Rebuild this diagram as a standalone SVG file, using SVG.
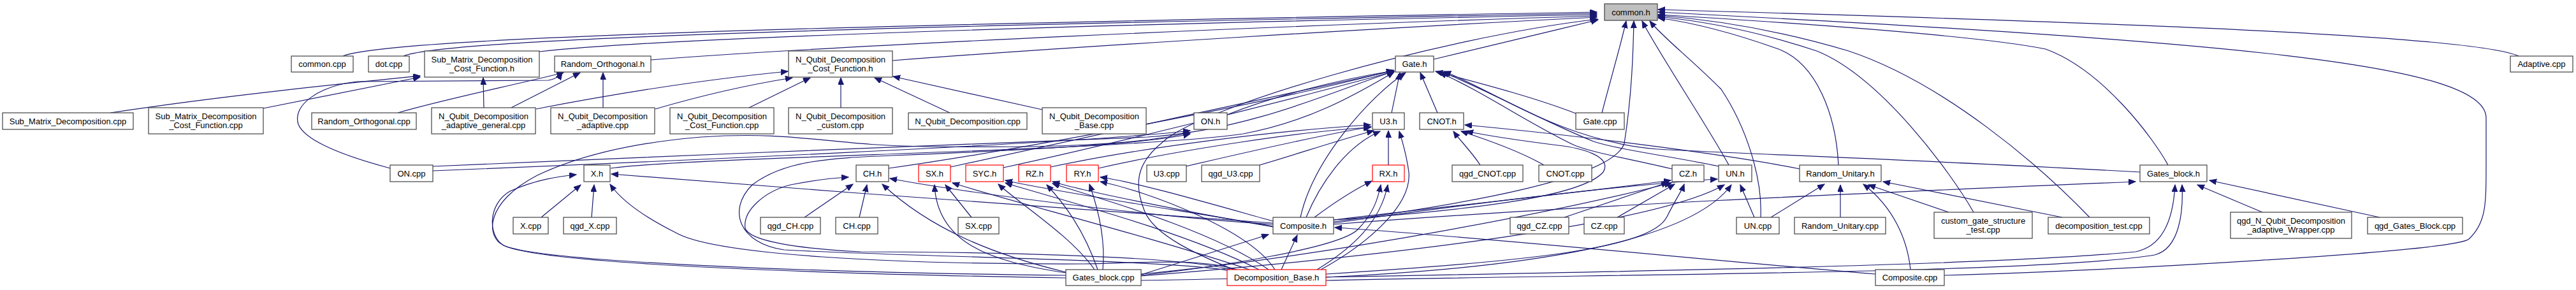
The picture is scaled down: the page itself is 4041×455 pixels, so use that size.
<svg xmlns="http://www.w3.org/2000/svg" width="4041" height="455" viewBox="0 0 4041 455">
<defs>
<marker id="a" markerUnits="userSpaceOnUse" markerWidth="12" markerHeight="10" refX="11" refY="4.5" orient="auto"><path d="M0,0 L11,4.5 L0,9 z" fill="#191970" stroke="#191970" stroke-width="1"/></marker>
</defs>
<style>
.n rect{fill:#fff;stroke:#404040;stroke-width:1.2}
.r rect{stroke:#ff0000}
.g rect{fill:#bfbfbf;stroke:#404040}
text{font-family:"Liberation Sans",Arial,Helvetica,sans-serif;font-size:13px;text-anchor:middle;fill:#000}
#edges path{fill:none;stroke:#191970;stroke-width:1.2;marker-end:url(#a)}
</style>
<rect width="4041" height="455" fill="#fff"/>
<g id="edges">
<path d="M538,88 C590,66 1000,44 2505,19"/>
<path d="M633,88 C680,68 1050,46 2505,21"/>
<path d="M846,81 C1050,58 1800,36 2505,23"/>
<path d="M1021,94 C1300,72 2000,40 2505,25"/>
<path d="M1400,95 C1700,72 2200,42 2505,27"/>
<path d="M2249,93 C2330,74 2420,52 2507,31"/>
<path d="M3951,88 C3880,55 3300,35 2601,15"/>
<path d="M3050,432 C3300,425 3850,395 3873,375 C3900,350 3900,320 3900,260 L3900,185 C3900,100 3500,65 2601,19"/>
<path d="M3401,259 C3380,220 3300,110 3209,77 C3100,55 2800,35 2601,23"/>
<path d="M2884,259 C2880,180 2850,100 2790,77 C2720,52 2660,36 2601,28"/>
<path d="M3096,333 C3060,270 2950,120 2850,80 C2760,50 2680,34 2601,26"/>
<path d="M3278,341 C3200,260 3050,130 2900,80 C2800,50 2700,32 2601,24"/>
<path d="M2513,177 C2525,130 2540,80 2551,33"/>
<path d="M2712,259 C2680,200 2600,80 2576,33"/>
<path d="M2762,341 C2765,280 2740,200 2700,140 C2650,90 2610,60 2588,33"/>
<path d="M2092,348 C2300,320 2530,280 2548,225 C2560,150 2562,80 2563,33"/>
<path d="M1935,423 C1880,400 1810,370 1795,330 C1775,280 1790,250 1825,222 C1880,170 2250,60 2506,30"/>
<path d="M173,177 C350,150 550,130 659,119"/>
<path d="M413,170 L659,121"/>
<path d="M759,169 L758,122"/>
<path d="M624,177 C700,155 800,135 884,114"/>
<path d="M802,169 L910,114"/>
<path d="M946,169 L946,114"/>
<path d="M612,264 C560,250 480,225 468,195 C458,165 500,135 560,128 L860,126 C872,124 878,120 882,114"/>
<path d="M841,171 C950,150 1100,125 1236,112"/>
<path d="M1028,171 C1100,150 1180,132 1243,122"/>
<path d="M1175,169 L1271,122"/>
<path d="M1319,169 L1319,122"/>
<path d="M1490,177 L1372,122"/>
<path d="M1635,172 L1401,120"/>
<path d="M1925,180 C2000,150 2100,125 2186,111"/>
<path d="M679,268 C1000,255 1700,225 1867,205"/>
<path d="M679,261 C1000,245 1600,225 1800,215 C1960,205 2100,140 2186,112"/>
<path d="M849,341 L911,290"/>
<path d="M928,341 L932,290"/>
<path d="M958,264 C1100,245 1750,238 1950,210 C2060,190 2140,140 2187,113"/>
<path d="M1672,436 C1300,430 850,415 790,385 C765,370 765,320 800,300 C840,282 875,277 904,274"/>
<path d="M1672,432 C1300,428 850,412 790,385 C762,372 760,318 843,275 C900,248 980,225 1100,215 C1250,205 1300,228 1450,230 C1650,232 1780,228 1867,208"/>
<path d="M1940,423 C1880,405 1800,412 1700,414 C1400,415 1120,400 1060,365 C1010,340 975,315 957,289"/>
<path d="M1997,350 C1700,330 1300,300 959,273"/>
<path d="M1262,341 L1338,289"/>
<path d="M1348,341 L1360,290"/>
<path d="M1672,427 C1560,400 1460,360 1384,289"/>
<path d="M1997,352 C1800,340 1500,300 1396,280"/>
<path d="M1930,423 C1850,400 1500,395 1350,395 C1250,390 1175,378 1169,358 C1165,330 1200,300 1240,290 C1280,282 1310,279 1331,278"/>
<path d="M1930,425 C1850,408 1400,402 1230,392 C1160,382 1140,330 1180,290 C1230,252 1300,248 1400,244 C1600,236 1800,226 1867,210"/>
<path d="M1394,264 C1600,235 2000,160 2186,110"/>
<path d="M1524,341 L1483,290"/>
<path d="M1672,428 C1550,410 1470,380 1466,290"/>
<path d="M1960,423 C1800,370 1600,320 1494,287"/>
<path d="M1491,262 C1650,228 2000,150 2187,111"/>
<path d="M1717,423 C1680,370 1600,320 1566,289"/>
<path d="M1997,355 C1850,330 1650,300 1577,283"/>
<path d="M1975,423 C1850,360 1650,310 1577,287"/>
<path d="M1574,263 C1750,225 2050,150 2187,112"/>
<path d="M1722,423 C1700,360 1670,320 1642,290"/>
<path d="M1997,356 C1850,330 1700,300 1651,285"/>
<path d="M1990,423 C1900,360 1720,310 1651,288"/>
<path d="M1648,262 C1800,230 2000,205 2150,196"/>
<path d="M1730,423 C1735,370 1720,320 1709,289"/>
<path d="M1997,347 C1900,320 1780,285 1726,278"/>
<path d="M2000,423 C1960,360 1800,300 1726,285"/>
<path d="M1723,264 C1850,235 2050,205 2150,200"/>
<path d="M2178,259 L2178,205"/>
<path d="M2062,341 C2090,320 2120,300 2152,284"/>
<path d="M1790,432 C1900,420 2100,390 2130,360 C2155,335 2162,310 2166,290"/>
<path d="M2066,423 C2120,390 2165,350 2177,290"/>
<path d="M1860,261 C1950,240 2080,210 2151,199"/>
<path d="M1976,259 C2040,240 2100,220 2155,205"/>
<path d="M2049,341 C2070,290 2110,230 2165,206"/>
<path d="M2072,423 C2150,380 2215,320 2210,270 C2206,240 2200,222 2195,206"/>
<path d="M2183,177 L2196,114"/>
<path d="M2255,177 L2228,114"/>
<path d="M2322,259 C2310,240 2290,220 2280,206"/>
<path d="M2422,259 C2380,235 2320,215 2292,206"/>
<path d="M2092,345 C2300,330 2480,310 2515,270 C2530,245 2480,232 2444,228 C2380,220 2330,212 2300,206"/>
<path d="M2823,265 C2700,240 2450,210 2298,196"/>
<path d="M2472,178 C2400,150 2300,125 2252,112"/>
<path d="M2454,341 L2617,286"/>
<path d="M2537,341 L2627,289"/>
<path d="M2623,265 C2560,250 2500,240 2470,228 C2400,195 2320,140 2258,114"/>
<path d="M2092,345 C2300,320 2500,300 2621,283"/>
<path d="M1790,430 C2100,400 2450,330 2622,287"/>
<path d="M2080,430 C2400,410 2590,390 2615,340 C2630,310 2638,300 2642,289"/>
<path d="M2752,341 L2730,290"/>
<path d="M2697,261 C2620,245 2540,235 2500,222 C2420,190 2320,135 2262,113"/>
<path d="M2092,350 C2300,320 2550,290 2694,281"/>
<path d="M1790,433 C2200,400 2600,350 2705,290"/>
<path d="M2080,435 C2400,420 2650,380 2716,290"/>
<path d="M2778,341 L2862,289"/>
<path d="M2887,341 L2887,290"/>
<path d="M3057,333 L2931,290"/>
<path d="M3235,341 L2954,285"/>
<path d="M2997,423 C2992,375 2970,325 2923,289"/>
<path d="M3549,333 L3447,290"/>
<path d="M3733,341 L3466,283"/>
<path d="M3357,270 C3000,250 2700,240 2600,234 C2450,222 2340,140 2265,112"/>
<path d="M2092,352 C2500,320 3000,300 3350,285"/>
<path d="M1790,440 C2300,430 3100,420 3350,395 C3400,385 3410,330 3412,290"/>
<path d="M2080,440 C2500,430 3200,430 3380,400 C3420,390 3425,330 3423,290"/>
<path d="M2010,423 L2035,369"/>
<path d="M1790,431 L1990,368"/>
<path d="M2942,430 C2700,410 2300,370 2094,357"/>
<path d="M2040,341 C2060,250 2150,150 2205,114"/>
</g>
<g id="common_h" class="n g"><rect x="2517" y="6" width="83" height="26"/><text x="2558.5" y="23.5">common.h</text></g>
<g id="common_cpp" class="n"><rect x="457" y="88" width="97" height="25"/><text x="505.5" y="105">common.cpp</text></g>
<g id="dot_cpp" class="n"><rect x="578" y="88" width="64" height="25"/><text x="610" y="105">dot.cpp</text></g>
<g id="smd_cf_h" class="n"><rect x="666" y="80" width="180" height="41"/><text x="756" y="97.5">Sub_Matrix_Decomposition</text><text x="756" y="112">_Cost_Function.h</text></g>
<g id="ro_h" class="n"><rect x="870" y="88" width="151" height="25"/><text x="945.5" y="105">Random_Orthogonal.h</text></g>
<g id="nqd_cf_h" class="n"><rect x="1237" y="80" width="163" height="41"/><text x="1318.5" y="97.5">N_Qubit_Decomposition</text><text x="1318.5" y="112">_Cost_Function.h</text></g>
<g id="gate_h" class="n"><rect x="2189" y="88" width="60" height="25"/><text x="2219" y="105">Gate.h</text></g>
<g id="adaptive_cpp" class="n"><rect x="3938" y="88" width="98" height="25"/><text x="3987" y="105">Adaptive.cpp</text></g>
<g id="smd_cpp" class="n"><rect x="4" y="177" width="205" height="26"/><text x="106.5" y="194.5">Sub_Matrix_Decomposition.cpp</text></g>
<g id="smd_cf_cpp" class="n"><rect x="233" y="169" width="180" height="41"/><text x="323" y="186.5">Sub_Matrix_Decomposition</text><text x="323" y="201">_Cost_Function.cpp</text></g>
<g id="ro_cpp" class="n"><rect x="489" y="177" width="164" height="26"/><text x="571" y="194.5">Random_Orthogonal.cpp</text></g>
<g id="nqd_ag_cpp" class="n"><rect x="677" y="169" width="163" height="41"/><text x="758.5" y="186.5">N_Qubit_Decomposition</text><text x="758.5" y="201">_adaptive_general.cpp</text></g>
<g id="nqd_a_cpp" class="n"><rect x="864" y="169" width="163" height="41"/><text x="945.5" y="186.5">N_Qubit_Decomposition</text><text x="945.5" y="201">_adaptive.cpp</text></g>
<g id="nqd_cf_cpp" class="n"><rect x="1051" y="169" width="163" height="41"/><text x="1132.5" y="186.5">N_Qubit_Decomposition</text><text x="1132.5" y="201">_Cost_Function.cpp</text></g>
<g id="nqd_custom_cpp" class="n"><rect x="1237" y="169" width="163" height="41"/><text x="1318.5" y="186.5">N_Qubit_Decomposition</text><text x="1318.5" y="201">_custom.cpp</text></g>
<g id="nqd_cpp" class="n"><rect x="1425" y="177" width="186" height="26"/><text x="1518" y="194.5">N_Qubit_Decomposition.cpp</text></g>
<g id="nqd_base_cpp" class="n"><rect x="1635" y="169" width="163" height="41"/><text x="1716.5" y="186.5">N_Qubit_Decomposition</text><text x="1716.5" y="201">_Base.cpp</text></g>
<g id="on_h" class="n"><rect x="1873" y="177" width="52" height="26"/><text x="1899" y="194.5">ON.h</text></g>
<g id="u3_h" class="n"><rect x="2153" y="177" width="50" height="26"/><text x="2178" y="194.5">U3.h</text></g>
<g id="cnot_h" class="n"><rect x="2227" y="177" width="69" height="26"/><text x="2261.5" y="194.5">CNOT.h</text></g>
<g id="gate_cpp" class="n"><rect x="2472" y="177" width="76" height="26"/><text x="2510" y="194.5">Gate.cpp</text></g>
<g id="on_cpp" class="n"><rect x="612" y="259" width="67" height="26"/><text x="645.5" y="276.5">ON.cpp</text></g>
<g id="x_h" class="n"><rect x="916" y="259" width="41" height="26"/><text x="936.5" y="276.5">X.h</text></g>
<g id="ch_h" class="n"><rect x="1343" y="259" width="51" height="26"/><text x="1368.5" y="276.5">CH.h</text></g>
<g id="sx_h" class="n r"><rect x="1441" y="259" width="50" height="26"/><text x="1466" y="276.5">SX.h</text></g>
<g id="syc_h" class="n r"><rect x="1515" y="259" width="59" height="26"/><text x="1544.5" y="276.5">SYC.h</text></g>
<g id="rz_h" class="n r"><rect x="1598" y="259" width="50" height="26"/><text x="1623" y="276.5">RZ.h</text></g>
<g id="ry_h" class="n r"><rect x="1673" y="259" width="50" height="26"/><text x="1698" y="276.5">RY.h</text></g>
<g id="u3_cpp" class="n"><rect x="1799" y="259" width="62" height="26"/><text x="1830" y="276.5">U3.cpp</text></g>
<g id="qgd_u3_cpp" class="n"><rect x="1885" y="259" width="91" height="26"/><text x="1930.5" y="276.5">qgd_U3.cpp</text></g>
<g id="rx_h" class="n r"><rect x="2153" y="259" width="50" height="26"/><text x="2178" y="276.5">RX.h</text></g>
<g id="qgd_cnot_cpp" class="n"><rect x="2278" y="259" width="111" height="26"/><text x="2333.5" y="276.5">qgd_CNOT.cpp</text></g>
<g id="cnot_cpp" class="n"><rect x="2414" y="259" width="83" height="26"/><text x="2455.5" y="276.5">CNOT.cpp</text></g>
<g id="cz_h" class="n"><rect x="2623" y="259" width="50" height="26"/><text x="2648" y="276.5">CZ.h</text></g>
<g id="un_h" class="n"><rect x="2696" y="259" width="52" height="26"/><text x="2722" y="276.5">UN.h</text></g>
<g id="ru_h" class="n"><rect x="2823" y="259" width="128" height="26"/><text x="2887" y="276.5">Random_Unitary.h</text></g>
<g id="gates_block_h" class="n"><rect x="3357" y="259" width="105" height="26"/><text x="3409.5" y="276.5">Gates_block.h</text></g>
<g id="x_cpp" class="n"><rect x="805" y="341" width="55" height="26"/><text x="832.5" y="358.5">X.cpp</text></g>
<g id="qgd_x_cpp" class="n"><rect x="884" y="341" width="83" height="26"/><text x="925.5" y="358.5">qgd_X.cpp</text></g>
<g id="qgd_ch_cpp" class="n"><rect x="1193" y="341" width="94" height="26"/><text x="1240" y="358.5">qgd_CH.cpp</text></g>
<g id="ch_cpp" class="n"><rect x="1311" y="341" width="66" height="26"/><text x="1344" y="358.5">CH.cpp</text></g>
<g id="sx_cpp" class="n"><rect x="1503" y="341" width="64" height="26"/><text x="1535" y="358.5">SX.cpp</text></g>
<g id="composite_h" class="n"><rect x="1997" y="341" width="95" height="26"/><text x="2044.5" y="358.5">Composite.h</text></g>
<g id="qgd_cz_cpp" class="n"><rect x="2369" y="341" width="92" height="26"/><text x="2415" y="358.5">qgd_CZ.cpp</text></g>
<g id="cz_cpp" class="n"><rect x="2485" y="341" width="63" height="26"/><text x="2516.5" y="358.5">CZ.cpp</text></g>
<g id="un_cpp" class="n"><rect x="2724" y="341" width="67" height="26"/><text x="2757.5" y="358.5">UN.cpp</text></g>
<g id="ru_cpp" class="n"><rect x="2815" y="341" width="143" height="26"/><text x="2886.5" y="358.5">Random_Unitary.cpp</text></g>
<g id="cgst_cpp" class="n"><rect x="3034" y="333" width="154" height="41"/><text x="3111" y="350.5">custom_gate_structure</text><text x="3111" y="365">_test.cpp</text></g>
<g id="dt_cpp" class="n"><rect x="3213" y="341" width="159" height="26"/><text x="3292.5" y="358.5">decomposition_test.cpp</text></g>
<g id="wrapper_cpp" class="n"><rect x="3499" y="333" width="190" height="41"/><text x="3594" y="350.5">qgd_N_Qubit_Decomposition</text><text x="3594" y="365">_adaptive_Wrapper.cpp</text></g>
<g id="qgd_gb_cpp" class="n"><rect x="3714" y="341" width="149" height="26"/><text x="3788.5" y="358.5">qgd_Gates_Block.cpp</text></g>
<g id="gates_block_cpp" class="n"><rect x="1672" y="423" width="118" height="25"/><text x="1731" y="440">Gates_block.cpp</text></g>
<g id="dec_base_h" class="n r"><rect x="1925" y="423" width="155" height="25"/><text x="2002.5" y="440">Decomposition_Base.h</text></g>
<g id="composite_cpp" class="n"><rect x="2942" y="423" width="108" height="25"/><text x="2996" y="440">Composite.cpp</text></g>
</svg>
